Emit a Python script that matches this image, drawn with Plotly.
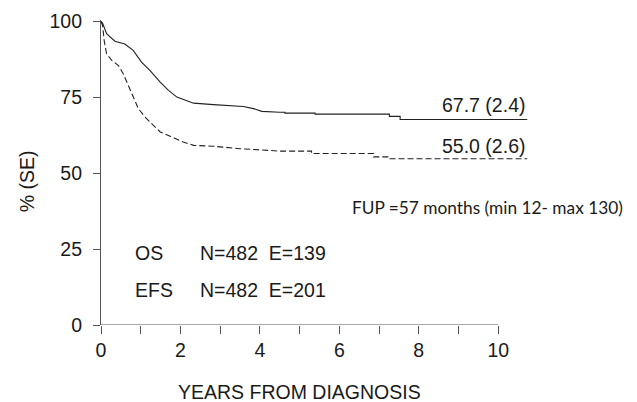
import plotly.graph_objects as go

# Data
os_years = [0, 0.04, 0.14, 0.35, 0.6, 0.81, 1.02, 1.23, 1.49, 1.7, 1.91, 2.16, 2.33, 2.83, 3.58, 3.84,
            4.05, 4.5, 4.63, 4.63, 5.39, 5.39, 7.26, 7.26, 7.53, 7.53, 10.73]
os_surv = [100, 99.5, 96, 93.5, 92.6, 90.5, 86.6, 83.9, 80, 77.3, 75.1, 73.8, 73.1, 72.6, 72, 71.3,
           70.4, 70.1, 70.1, 69.8, 69.8, 69.5, 69.5, 68.75, 68.75, 67.7, 67.7]

efs_years = [0, 0.04, 0.08, 0.14, 0.27, 0.44, 0.56, 0.69, 0.81, 0.94, 1.11, 1.28, 1.49, 1.74, 2.07,
             2.33, 2.83, 3.5, 4.0, 4.5, 5.3, 5.3, 6.86, 6.86, 7.24, 7.24, 10.73]
efs_surv = [100, 98.7, 93.75, 89.4, 87.2, 85.5, 82.8, 79, 75.1, 71.3, 68.5, 66.3, 63.6, 62.2, 60.3,
            59.2, 58.9, 58.1, 57.6, 57.3, 57.3, 56.5, 56.5, 55.4, 55.4, 54.8, 54.8]

x_ticks = [0, 1, 2, 3, 4, 5, 6, 7, 8, 9, 10]
x_ticktext = ["0", "", "2", "", "4", "", "6", "", "8", "", "10"]
y_ticks = [0, 25, 50, 75, 100]

end_labels = ["67.7 (2.4)", "55.0 (2.6)"]
end_label_y = [72.4, 58.9]
legend_names = ["OS", "EFS"]
legend_stats = ["N=482  E=139", "N=482  E=201"]
legend_y = [23.8, 11.5]
fup_text = "FUP =57 months (min 12- max 130)"

FONT = "Liberation Sans, Arial, sans-serif"
TXT = "#1a1a1a"
AX = "#555555"

fig = go.Figure()
fig.add_trace(go.Scatter(x=os_years, y=os_surv, mode="lines",
                         line=dict(color="#222222", width=1.1), showlegend=False))
fig.add_trace(go.Scatter(x=efs_years, y=efs_surv, mode="lines",
                         line=dict(color="#222222", width=1.1, dash="6px,3px"), showlegend=False))

# x axis line only spanning 0..10
fig.add_shape(type="line", x0=0, x1=10, y0=0, y1=0, xref="x", yref="y",
              line=dict(color=AX, width=1.2), layer="above")

for t, yv in zip(end_labels, end_label_y):
    fig.add_annotation(x=10.73, y=yv, text=t, showarrow=False, xanchor="right", yanchor="middle",
                       font=dict(family=FONT, size=19.5, color=TXT))

for n, s, yv in zip(legend_names, legend_stats, legend_y):
    fig.add_annotation(x=0.8, y=yv, text=n, showarrow=False, xanchor="left", yanchor="middle",
                       font=dict(family=FONT, size=19.5, color=TXT))
    fig.add_annotation(x=2.45, y=yv, text=s, showarrow=False, xanchor="left", yanchor="middle",
                       font=dict(family=FONT, size=19.5, color=TXT))

fig.add_annotation(x=1.2166, y=0.386, xref="paper", yref="paper", text=fup_text, showarrow=False,
                   xanchor="right", yanchor="middle",
                   font=dict(family="Lato, Carlito, Calibri, sans-serif", size=17.3, color=TXT))

# axis titles
fig.add_annotation(x=5, y=-0.219, xref="x", yref="paper", text="YEARS FROM DIAGNOSIS", showarrow=False,
                   xanchor="center", yanchor="middle", font=dict(family=FONT, size=19.5, color=TXT))
fig.add_annotation(x=-0.172, y=0.471, xref="paper", yref="paper", text="% (SE)", showarrow=False,
                   textangle=-90, xanchor="center", yanchor="middle",
                   font=dict(family=FONT, size=19.5, color=TXT))

# page body has an 8px margin, so the figure is sized/offset to compensate
fig.update_layout(
    width=629, height=394,
    margin=dict(l=93, r=105.3, t=11.5, b=77, autoexpand=False),
    paper_bgcolor="white", plot_bgcolor="white",
    font=dict(family=FONT, size=19.5, color=TXT),
)
fig.update_xaxes(range=[0, 10.85], tickvals=x_ticks, ticktext=x_ticktext, ticks="outside",
                 ticklen=8, tickcolor=AX, tickwidth=1.2, showline=False, showgrid=False,
                 zeroline=False, automargin=False, tickfont=dict(family=FONT, size=19.5, color=TXT))
fig.update_yaxes(range=[0, 100.5], tickvals=y_ticks, ticks="outside", ticklen=7, tickcolor=AX,
                 tickwidth=1.2, showline=True, linecolor=AX, linewidth=1.2, showgrid=False,
                 zeroline=False, automargin=False, ticklabelstandoff=7,
                 tickfont=dict(family=FONT, size=19.5, color=TXT))

fig.write_html("out.html")
